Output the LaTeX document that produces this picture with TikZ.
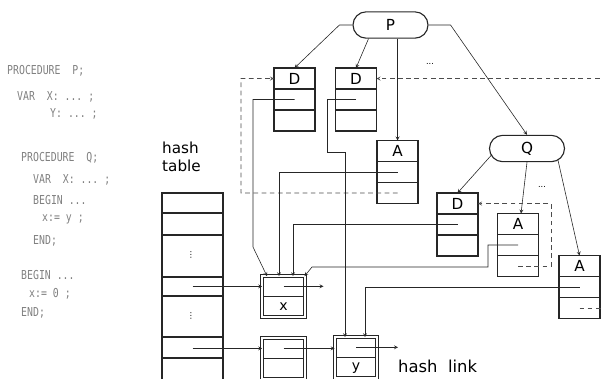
\documentclass[tikz,border=0pt]{standalone}
\usepackage{fontspec}
\setmainfont{DejaVu Sans}
\newfontfamily\codefont[FakeStretch=0.8]{DejaVu Sans Mono}
\usetikzlibrary{shapes.misc, arrows, positioning, calc}

\begin{document}
\begin{tikzpicture}[
			x=0.03cm, y=-0.03cm,
			rec/.style={rectangle, draw=black!85, line width=0.95pt, minimum width=1.23cm, minimum height=1.89cm, inner sep=0pt, outer sep=0pt},
			hrec/.style={rectangle, draw=black!85, double, double distance=1.8pt, line width=0.7pt, minimum width=1.28cm, minimum height=1.22cm, inner sep=0pt, outer sep=0pt},
			proc/.style={rounded rectangle, draw=black!85, line width=0.95pt, minimum width=2.25cm, minimum height=0.79cm, inner sep=0pt, font=\fontsize{13}{15}\selectfont},
			letter/.style={font=\fontsize{13}{15}\selectfont, inner sep=0pt},
			code/.style={anchor=west, inner sep=0pt, text=black!50, font=\codefont\fontsize{10.5}{12}\selectfont},
			arr/.style={->, >=stealth, line width=0.5pt, draw=black!85},
			dasharr/.style={->, >=stealth, line width=0.5pt, draw=black!70, dash pattern=on 4pt off 3pt}
			]
			\useasboundingbox (0,0) rectangle (601,378);
			
			% Program text
			\node[code] (c1) at (7,71) {PROCEDURE\ \ P;};
			\node[code] (c2) at (17,97) {VAR\ \ X:\ ...\ ;};
			\node[code] (c3) at (50,114) {Y:\ ...\ ;};
			\node[code] (c4) at (21,158) {PROCEDURE\ \ Q;};
			\node[code] (c5) at (33,180) {VAR\ \ X:\ ...\ ;};
			\node[code] (c6) at (33,200) {BEGIN\ ...};
			\node[code] (c7) at (42,219) {x:=\ y\ ;};
			\node[code] (c8) at (33,241) {END;};
			\node[code] (c9) at (21,275) {BEGIN\ ...};
			\node[code] (c10) at (29,294) {x:=\ 0\ ;};
			\node[code] (c11) at (21,313) {END;};
			
			% Procedure nodes
			\node[proc] (P) at (390.5,25) {P};
			\node[proc] (Q) at (527,148.5) {Q};
			
			% Declaration / applied records
			\node[rec] (D1) at (294.5,99.5) {};
			\node[rec] (D2) at (356,99.5) {};
			\node[rec] (A1) at (397.5,172) {};
			\node[rec] (D3) at (457.5,224.5) {};
			\node[rec] (A2) at (518,245) {};
			\node[rec] (A3) at (579.5,287) {};
			\foreach \r/\t in {D1/D,D2/D,A1/A,D3/D,A2/A,A3/A} {
				\node[letter] (\r-t) at ($(\r.center)!2/3!(\r.north)$) {\t};
				\coordinate (\r-b) at ($(\r.center)!2/3!(\r.south)$);
				\draw[line width=0.95pt, black!85] ($(\r.north west)!1/3!(\r.south west)$) -- ($(\r.north east)!1/3!(\r.south east)$)
					($(\r.north west)!2/3!(\r.south west)$) -- ($(\r.north east)!2/3!(\r.south east)$);
			}
			\node[font=\scriptsize] (dots1) at (430,64) {...};
			\node[font=\scriptsize] (dots2) at (542,187) {...};
			
			% Hash table
			\node[font=\fontsize{13}{15}\selectfont, align=left, anchor=west, inner sep=0pt] (htl) at (162,157) {hash\\table};
			\node[draw=black!85, line width=0.95pt, minimum width=1.83cm, minimum height=5.91cm, anchor=north west, inner sep=0pt, outer sep=0pt] (htab) at (162,193) {};
			\foreach \y in {213,235,277,296,337,358}
				\draw[line width=0.95pt, black!85] (htab.west |- 0,\y) -- (htab.east |- 0,\y);
			\node[font=\scriptsize] (vd1) at (191,255) {⋮};
			\node[font=\scriptsize] (vd2) at (191,316) {⋮};
			
			% Identifier records
			\node[hrec] (xrec) at (283.5,296.5) {};
			\node[hrec] (rec2) at (283.5,358.5) {};
			\node[hrec] (yrec) at (356,357.5) {};
			\foreach \r in {xrec,rec2,yrec}
				\draw[thick, black!85] ([xshift=1.3pt]\r.west) -- ([xshift=-1.3pt]\r.east);
			\node[letter, font=\fontsize{12}{14}\selectfont] (xl) at ($(xrec.center)!0.5!(xrec.south)$) {x};
			\node[letter, font=\fontsize{12}{14}\selectfont] (yl) at ($(yrec.center)!0.5!(yrec.south)$) {y};
			
			% Hash links
			\coordinate (xu) at ($(xrec.center)!0.5!(xrec.north)$);
			\coordinate (ru) at ($(rec2.center)!0.5!(rec2.north)$);
			\coordinate (yu) at ($(yrec.center)!0.5!(yrec.north)$);
			\draw[arr] (htab.center |- xu) -- (xu -| xrec.west);
			\draw[arr] (xu) -- ($(xu)+(40,0)$);
			\draw[arr] (htab.center |- ru) -- (ru -| rec2.west);
			\draw[arr] (ru) -- (ru -| yrec.west);
			\draw[arr] (yu) -- ($(yu)+(42,0)$);
			\node[font=\fontsize{14}{16}\selectfont, anchor=west, inner sep=0pt] (hl) at (398,366) {hash\ \ link};
			
			% Tree edges
			\draw[arr] (P.west) -- ++(-13,0) -- (D1.north);
			\draw[arr] ($(P.south)+(-22,0)$) -- (D2.north);
			\draw[arr] (P.south -| A1.north) -- (A1.north);
			\draw[arr] (P.east) -- ++(22,0) -- (Q.north);
			\draw[arr] ($(Q.west)+(3,6)$) -- (D3.north);
			\draw[arr] (Q.south) -- ($(A2.north)+(3,0)$);
			\draw[arr] ($(Q.south)+(31,-2)$) -- (A3.north);
			
			% Scope links
			\coordinate (s1) at (241,193);
			\coordinate (s2) at (606,0);
			\coordinate (s3) at (551,0);
			\draw[dasharr] (A1-b) -- (s1) -- (s1 |- D1-t) -- (D1-t -| D1.west);
			\draw[dasharr] (A3-b) -- (A3-b -| s2) -- (s2 |- D2-t) -- (D2-t -| D2.east);
			\draw[dasharr] (A2-b) -- (A2-b -| s3) -- (s3 |- D3-t) -- (D3-t -| D3.east);
			
			% Links to identifier records
			\coordinate (k1) at (253,247);
			\coordinate (k2) at (327,152);
			\coordinate (k3) at (345,152);
			\coordinate (k4) at (488,267);
			\coordinate (k5) at (312,267);
			\draw[arr] (D1.center) -| (k1) -- ($(xrec.north)+(-16.5,0)$);
			\draw[arr] (D2.center) -| (k2) -- (k3) -- (k3 |- yrec.north);
			\draw[arr] (A1.center) -| ($(xrec.north)+(-4.5,0)$);
			\draw[arr] (D3.center) -| ($(xrec.north)+(9.5,0)$);
			\draw[arr] (A2.center) -| (k4) -- (k5) -- ($(xrec.north)+(21,0)$);
			\draw[arr] (A3.center) -| ($(yrec.north)+(9,0)$);
			
		\end{tikzpicture}
\end{document}
